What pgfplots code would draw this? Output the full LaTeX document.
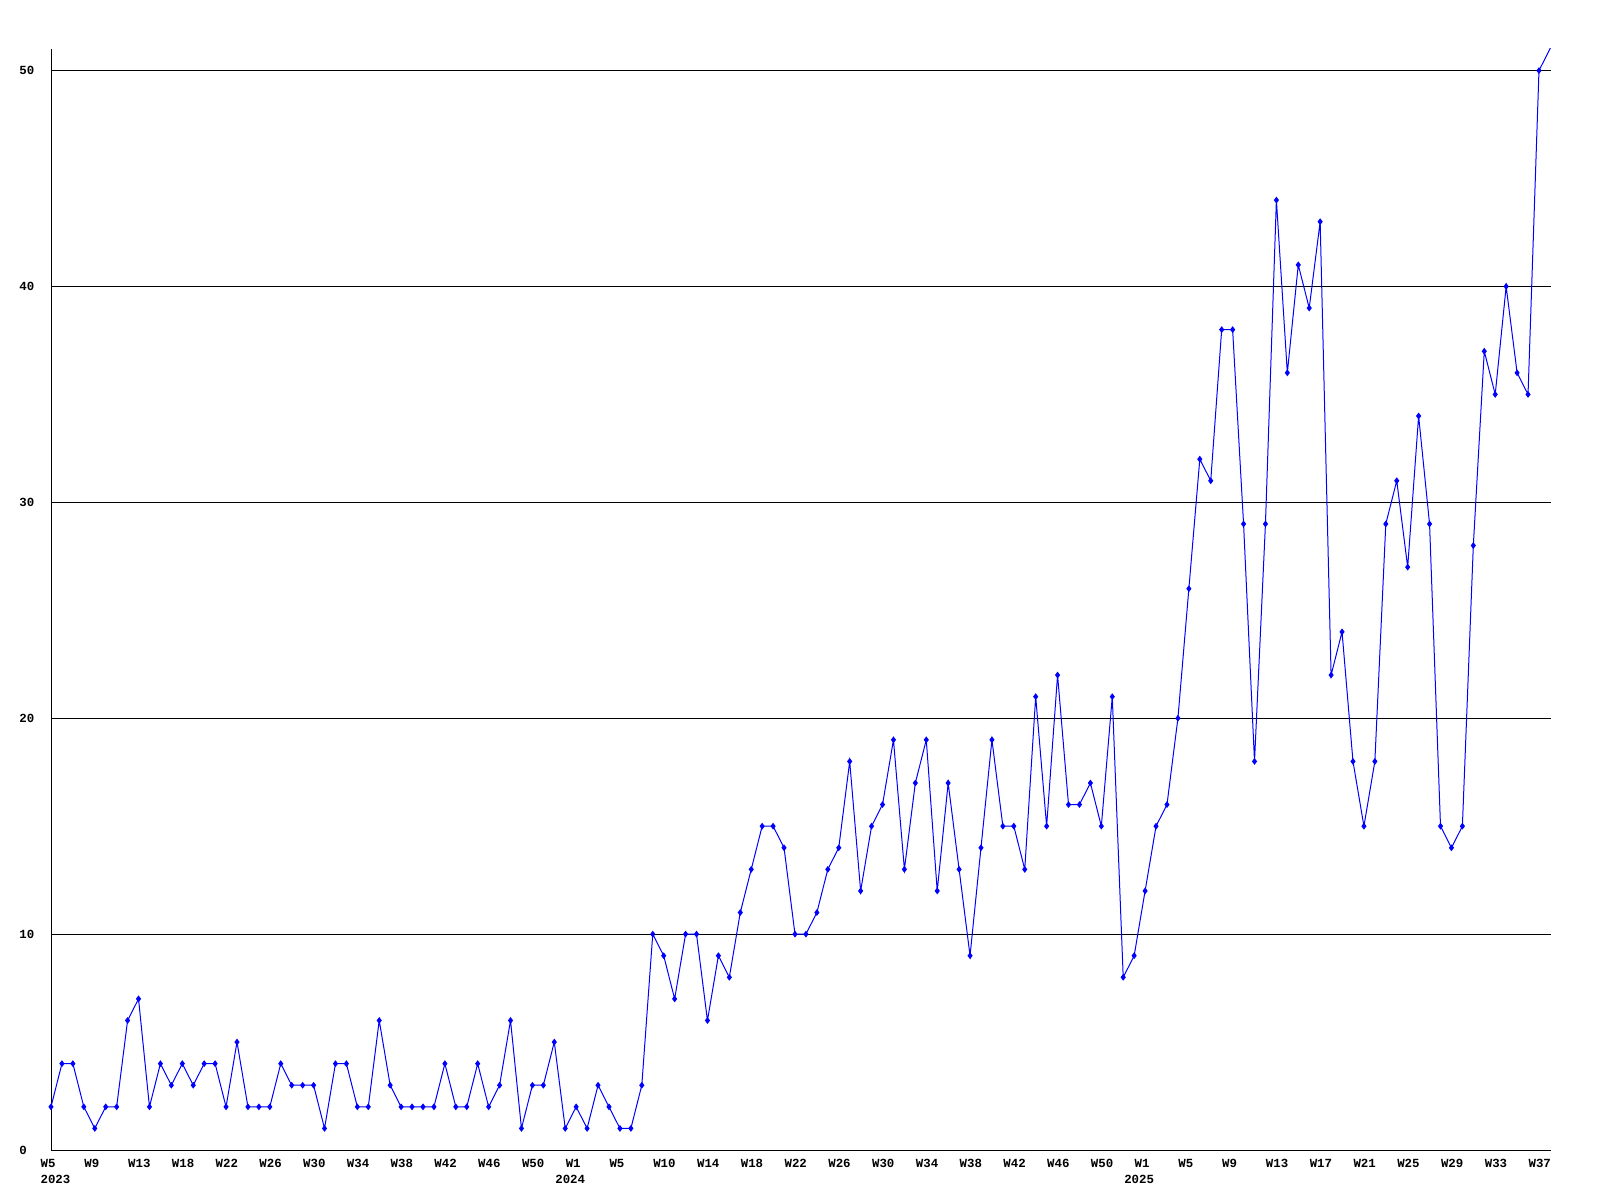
\documentclass[border=0pt]{standalone}
\usepackage{fontspec}
\setmainfont{Liberation Mono}
\usepackage{pgfplots}
\pgfplotsset{compat=1.18}
\usepackage{pgfplotstable}
\pgfplotstableread{
x y
0 2
1 4
2 4
3 2
4 1
5 2
6 2
7 6
8 7
9 2
10 4
11 3
12 4
13 3
14 4
15 4
16 2
17 5
18 2
19 2
20 2
21 4
22 3
23 3
24 3
25 1
26 4
27 4
28 2
29 2
30 6
31 3
32 2
33 2
34 2
35 2
36 4
37 2
38 2
39 4
40 2
41 3
42 6
43 1
44 3
45 3
46 5
47 1
48 2
49 1
50 3
51 2
52 1
53 1
54 3
55 10
56 9
57 7
58 10
59 10
60 6
61 9
62 8
63 11
64 13
65 15
66 15
67 14
68 10
69 10
70 11
71 13
72 14
73 18
74 12
75 15
76 16
77 19
78 13
79 17
80 19
81 12
82 17
83 13
84 9
85 14
86 19
87 15
88 15
89 13
90 21
91 15
92 22
93 16
94 16
95 17
96 15
97 21
98 8
99 9
100 12
101 15
102 16
103 20
104 26
105 32
106 31
107 38
108 38
109 29
110 18
111 29
112 44
113 36
114 41
115 39
116 43
117 22
118 24
119 18
120 15
121 18
122 29
123 31
124 27
125 34
126 29
127 15
128 14
129 15
130 28
131 37
132 35
133 40
134 36
135 35
136 50
}\datatable
\begin{document}
\begin{tikzpicture}
\useasboundingbox (-25.5pt,-25pt) rectangle (774.5pt,575pt);
\begin{axis}[
  at={(0pt,0pt)}, anchor=south west,
  scale only axis, width=750pt, height=550.5pt,
  xmin=0, xmax=137.1, ymin=0, ymax=51,
  axis x line=bottom, axis y line=left,
  axis line style={-, black, line width=0.5pt},
  major tick length=0pt,
  ytick={0,10,20,30,40,50},
  ymajorgrids, grid style={black, line width=0.5pt},
  xtick={0,4,...,136},
  xticklabels={W5,W9,W13,W18,W22,W26,W30,W34,W38,W42,W46,W50,W1,W5,W10,W14,W18,W22,W26,W30,W34,W38,W42,W46,W50,W1,W5,W9,W13,W17,W21,W25,W29,W33,W37},
  every tick label/.append style={font=\fontsize{6.2}{7.5}\selectfont\bfseries, inner sep=0pt},
  yticklabel style={anchor=west, xshift=-16pt},
  xticklabel style={anchor=north west, xshift=-5.4pt, yshift=-4.5pt},
  /pgf/number format/assume math mode=true,
]
\addplot[blue, line width=0.5pt, mark=diamond*, mark size=1.3pt, mark options={blue}] table[x=x,y=y]{\datatable};
\addplot[blue, line width=0.5pt, no marks] coordinates {(136,50) (137.1,51.1)};
\coordinate (y23) at (axis cs:0,0);
\coordinate (y24) at (axis cs:48,0);
\coordinate (y25) at (axis cs:100,0);
\end{axis}
\begin{scope}[every node/.style={anchor=north west, inner sep=0pt, font=\fontsize{6.2}{7.5}\selectfont\bfseries}]
\node[xshift=-5.4pt, yshift=-12.5pt] at (y23) {2023};
\node[xshift=-10.6pt, yshift=-12.5pt] at (y24) {2024};
\node[xshift=-10.6pt, yshift=-12.5pt] at (y25) {2025};
\end{scope}
\end{tikzpicture}
\end{document}
